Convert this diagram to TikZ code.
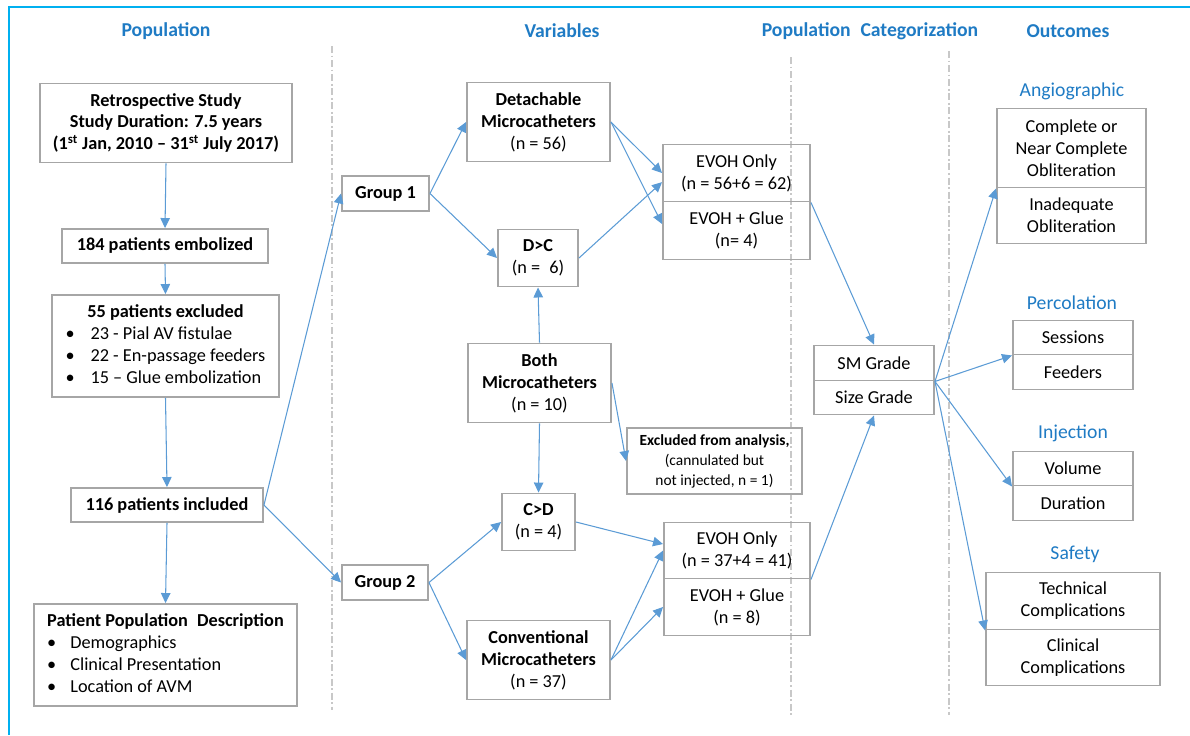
\documentclass[tikz,border=0pt]{standalone}
\usepackage{fontspec}
\setmainfont{Carlito}
\usetikzlibrary{arrows.meta,positioning}
\definecolor{arrowblue}{HTML}{5B9BD5}
\definecolor{boxgray}{HTML}{A6A6A6}
\definecolor{headblue}{HTML}{1F7BC4}
\definecolor{framecyan}{HTML}{00B0F0}
\definecolor{sepgray}{HTML}{C8C8C8}

\begin{document}
\begin{tikzpicture}[x=0.02cm,y=-0.02cm,
    wh/.style 2 args={minimum width=#1*0.02cm, minimum height=#2*0.02cm},
    box/.style={draw=boxgray, line width=1.1pt, align=center, inner sep=0pt,
        font=\fontsize{10.4}{12.5}\selectfont},
    bbox/.style={box, font=\fontsize{10.4}{12.5}\selectfont\bfseries},
    head/.style={text=headblue, font=\fontsize{11.2}{13}\selectfont\bfseries},
    subhead/.style={text=headblue, font=\fontsize{11.2}{13}\selectfont},
    arr/.style={draw=arrowblue, line width=0.6pt, -{Triangle[length=2mm,width=1.9mm]}},
    sep/.style={draw=sepgray, line width=0.6pt, dash pattern=on 4pt off 1.5pt on 1pt off 1.5pt},
  ]
  \useasboundingbox (0,0) rectangle (1190,735);
  \draw[framecyan, line width=0.9pt] (9,735) -- (9,7) -- (1190,7);

  \draw[sep] (332,46) -- (332,710);
  \draw[sep] (791,57) -- (791,715);
  \draw[sep] (949,51) -- (949,715);

  \node[head] (hpop) at (166,31) {Population};
  \node[head] (hvar) at (562,31) {Variables};
  \node[head] (hcat) at (870,31) {Population\enspace Categorization};
  \node[head] (hout) at (1068,31) {Outcomes};

  \node[bbox,wh={252}{79}] (retro) at (166,123) {Retrospective Study\\Study Duration: 7.5 years\\(1\textsuperscript{st} Jan, 2010 -- 31\textsuperscript{st} July 2017)};
  \node[bbox,wh={206}{34}] (emb) at (165,246) {184 patients embolized};
  \node[box,wh={227}{102}] (excl) at (165.5,346) {\begin{tabular}{@{}l@{\hspace{9pt}}l@{}}
      \multicolumn{2}{c}{\textbf{55 patients excluded}}\\
      \textbullet & 23 - Pial AV fistulae\\
      \textbullet & 22 - En-passage feeders\\
      \textbullet & 15 -- Glue embolization
    \end{tabular}};
  \node[bbox,wh={192}{34}] (incl) at (167,505) {116 patients included};
  \node[box,wh={263}{102}] (desc) at (165.5,655) {\begin{tabular}{@{}l@{\hspace{8pt}}l@{}}
      \multicolumn{2}{@{}l@{}}{\textbf{Patient Population\enspace Description}}\\
      \textbullet & Demographics\\
      \textbullet & Clinical Presentation\\
      \textbullet & Location of AVM
    \end{tabular}};

  \node[bbox,wh={87}{35}] (g1) at (385.5,193.5) {Group 1};
  \node[bbox,wh={86}{35}] (g2) at (385,582.5) {Group 2};

  \node[box,wh={143}{79}] (det) at (538.5,122) {\textbf{Detachable}\\\textbf{Microcatheters}\\(n = 56)};
  \node[box,wh={80}{57}] (dc) at (538,258) {\textbf{D>C}\\(n =\enspace 6)};
  \node[box,wh={143}{79}] (both) at (539.5,383) {\textbf{Both}\\\textbf{Microcatheters}\\(n = 10)};
  \node[box,wh={175}{66},font=\fontsize{8.8}{11.4}\selectfont] (exan) at (714.5,461) {\textbf{Excluded from analysis,}\\(cannulated but\\not injected, n = 1)};
  \node[box,wh={73}{57}] (cd) at (538.5,522) {\textbf{C>D}\\(n = 4)};
  \node[box,wh={143}{79}] (conv) at (538.5,660) {\textbf{Conventional}\\\textbf{Microcatheters}\\(n = 37)};

  \node[box,wh={147}{57}] (evaT) at (736.5,173) {EVOH Only\\(n = 56+6 = 62)};
  \node[box,wh={147}{58}] (evaB) at (736.5,230.5) {EVOH + Glue\\(n= 4)};
  \node[box,wh={146}{56}] (evbT) at (737,550.5) {EVOH Only\\(n = 37+4 = 41)};
  \node[box,wh={146}{57}] (evbB) at (737,607) {EVOH + Glue\\(n = 8)};

  \node[box,wh={120}{35}] (sm) at (874,363) {SM Grade};
  \node[box,wh={120}{34}] (size) at (874,397.5) {Size Grade};

  \node[subhead] (hang) at (1072,91) {Angiographic};
  \node[box,wh={149}{79}] (angT) at (1071.5,148) {Complete or\\Near Complete\\Obliteration};
  \node[box,wh={149}{56}] (angB) at (1071.5,215.5) {Inadequate\\Obliteration};
  \node[subhead] (hperc) at (1072,303) {Percolation};
  \node[box,wh={120}{34}] (percT) at (1073,337.5) {Sessions};
  \node[box,wh={120}{35}] (percB) at (1073,372) {Feeders};
  \node[subhead] (hinj) at (1073,433) {Injection};
  \node[box,wh={120}{34}] (injT) at (1073,468.5) {Volume};
  \node[box,wh={120}{35}] (injB) at (1073,503) {Duration};
  \node[subhead] (hsaf) at (1075,554) {Safety};
  \node[box,wh={174}{57}] (safT) at (1073,601) {Technical\\Complications};
  \node[box,wh={174}{56}] (safB) at (1073,657.5) {Clinical\\Complications};

  \draw[arr] (retro.south) -- (emb.north);
  \draw[arr] (emb.south) -- (excl.north);
  \draw[arr] (excl.south) -- (incl.north);
  \draw[arr] (incl.south) -- (desc.north);
  \draw[arr] (incl.east) -- (g1.west);
  \draw[arr] (incl.east) -- (g2.west);

  \draw[arr] (g1.east) -- (det.west);
  \draw[arr] (g1.east) -- (dc.west);
  \draw[arr] (det.east) -- (evaT.west);
  \draw[arr] (det.east) -- (evaB.175);
  \draw[arr] (dc.east) -- (evaT.187);
  \draw[arr] (both.north) -- (dc.south);
  \draw[arr] (both.south) -- (cd.north);
  \draw[arr] (both.east) -- (exan.west);
  \draw[arr] (g2.east) -- (cd.west);
  \draw[arr] (g2.east) -- (conv.west);
  \draw[arr] (cd.east) -- (evbT.175);
  \draw[arr] (conv.east) -- (evbT.west);
  \draw[arr] (conv.east) -- (evbB.west);

  \draw[arr] (evaT.south east) -- (sm.north);
  \draw[arr] (evbT.south east) -- (size.south);
  \draw[arr] (sm.south east) -- (angT.south west);
  \draw[arr] (sm.south east) -- (percT.south west);
  \draw[arr] (sm.south east) -- (injT.south west);
  \draw[arr] (sm.south east) -- (safT.south west);
\end{tikzpicture}
\end{document}
